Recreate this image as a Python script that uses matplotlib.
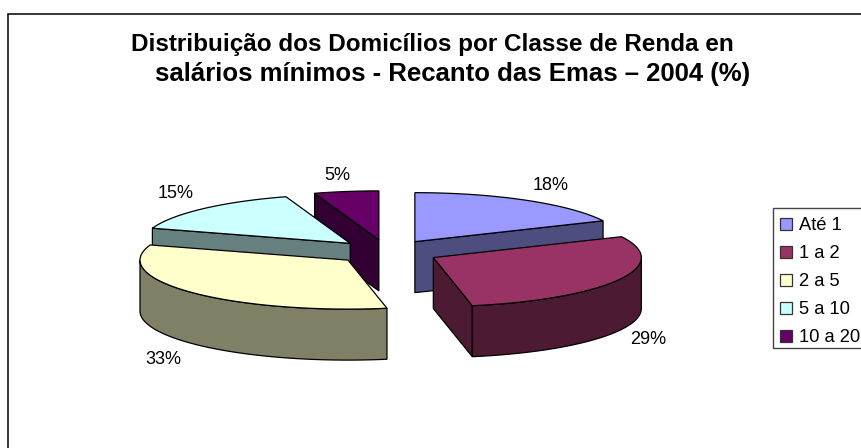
import numpy as np
import matplotlib
matplotlib.use('Agg')
import matplotlib.pyplot as plt
from matplotlib.patches import Polygon, Patch, Rectangle

plt.rcParams['font.family'] = ['Liberation Sans', 'DejaVu Sans']

categories = ['Até 1', '1 a 2', '2 a 5', '5 a 10', '10 a 20']
values = [18, 29, 33, 15, 5]
top_colors = ['#9999FF', '#993366', '#FFFFCC', '#CCFFFF', '#660066']
side_colors = ['#4D4D80', '#4D1A33', '#808066', '#668080', '#330033']
title_1 = 'Distribuição dos Domicílios por Classe de Renda en'
title_2 = 'salários mínimos - Recanto das Emas – 2004 (%)'

# posicion de las etiquetas en pixeles
label_pos = [(551, 185), (648, 339), (163, 359), (176, 194), (337, 176)]

# pastel 3D proyectado a mano
cx, cy = 387, 252
rx, ry = 208, 49
depth = 51
explode = 0.25

fig = plt.figure(figsize=(8.61, 4.48), dpi=100)
ax = fig.add_axes([0, 0, 1, 1])
ax.set_xlim(0, 861)
ax.set_ylim(448, 0)
ax.axis('off')

ax.plot([8, 8, 861], [448, 14, 14], color='black', lw=1.1, solid_joinstyle='miter')


def point(ang, ox, oy, dz=0):
    return ox + rx * np.sin(ang), oy - ry * np.cos(ang) + dz


def draw_face(pts, color, z):
    ax.add_patch(Polygon(pts, closed=True, facecolor=color, edgecolor='black', lw=0.9, zorder=z))


total = sum(values)
edges = np.cumsum([0] + values) / total * 2 * np.pi

# orden de dibujo: primero las porciones de atras
order = [0, 4, 3, 2, 1]
for z, i in enumerate(order):
    a0, a1 = edges[i], edges[i + 1]
    mid = (a0 + a1) / 2
    ox = cx + explode * rx * np.sin(mid)
    oy = cy - explode * ry * np.cos(mid)
    base = 10 * z

    # caras radiales visibles
    x0, y0 = point(a0, ox, oy)
    x1, y1 = point(a1, ox, oy)
    if x0 < ox and y0 < oy or x0 < ox and y0 > oy and a0 > np.pi:
        draw_face([(ox, oy), (x0, y0), (x0, y0 + depth), (ox, oy + depth)], side_colors[i], base + 1)
    if x1 > ox and y1 > oy or (x1 > ox and a1 < np.pi):
        draw_face([(ox, oy), (x1, y1), (x1, y1 + depth), (ox, oy + depth)], side_colors[i], base + 1)

    # borde frontal
    lo, hi = max(a0, np.pi / 2), min(a1, 3 * np.pi / 2)
    if hi > lo:
        t = np.linspace(lo, hi, 60)
        xs, ys = point(t, ox, oy)
        rim = list(zip(xs, ys)) + list(zip(xs[::-1], ys[::-1] + depth))
        draw_face(rim, side_colors[i], base + 2)

    # cara superior
    t = np.linspace(a0, a1, 120)
    xs, ys = point(t, ox, oy)
    draw_face([(ox, oy)] + list(zip(xs, ys)), top_colors[i], base + 3)

    ax.text(label_pos[i][0], label_pos[i][1], f'{values[i]}%', ha='center', va='center',
            fontsize=13, color='black', zorder=100)

ax.text(432, 45, title_1, ha='center', va='center', fontsize=17.5, fontweight='bold',
        color='black', zorder=100)
ax.text(453, 74, title_2, ha='center', va='center', fontsize=18.5, fontweight='bold',
        color='black', zorder=100)

# marco de la leyenda aparte, se corta en el borde derecho
ax.add_patch(Rectangle((772.5, 208.5), 100, 139.5, facecolor='white', edgecolor='#444444',
                       lw=1.0, zorder=80))

handles = [Patch(facecolor=c, edgecolor='#333333', lw=0.9) for c in top_colors]
leg = ax.legend(handles, categories, loc='upper left', bbox_to_anchor=(772.5, 209.5),
                bbox_transform=ax.transData, fontsize=13.2, frameon=False,
                borderpad=0.42, labelspacing=0.6,
                handlelength=0.62, handleheight=0.62, handletextpad=0.38, borderaxespad=0)
leg.set_zorder(90)

fig.savefig('out.png', dpi=100, facecolor='white')
